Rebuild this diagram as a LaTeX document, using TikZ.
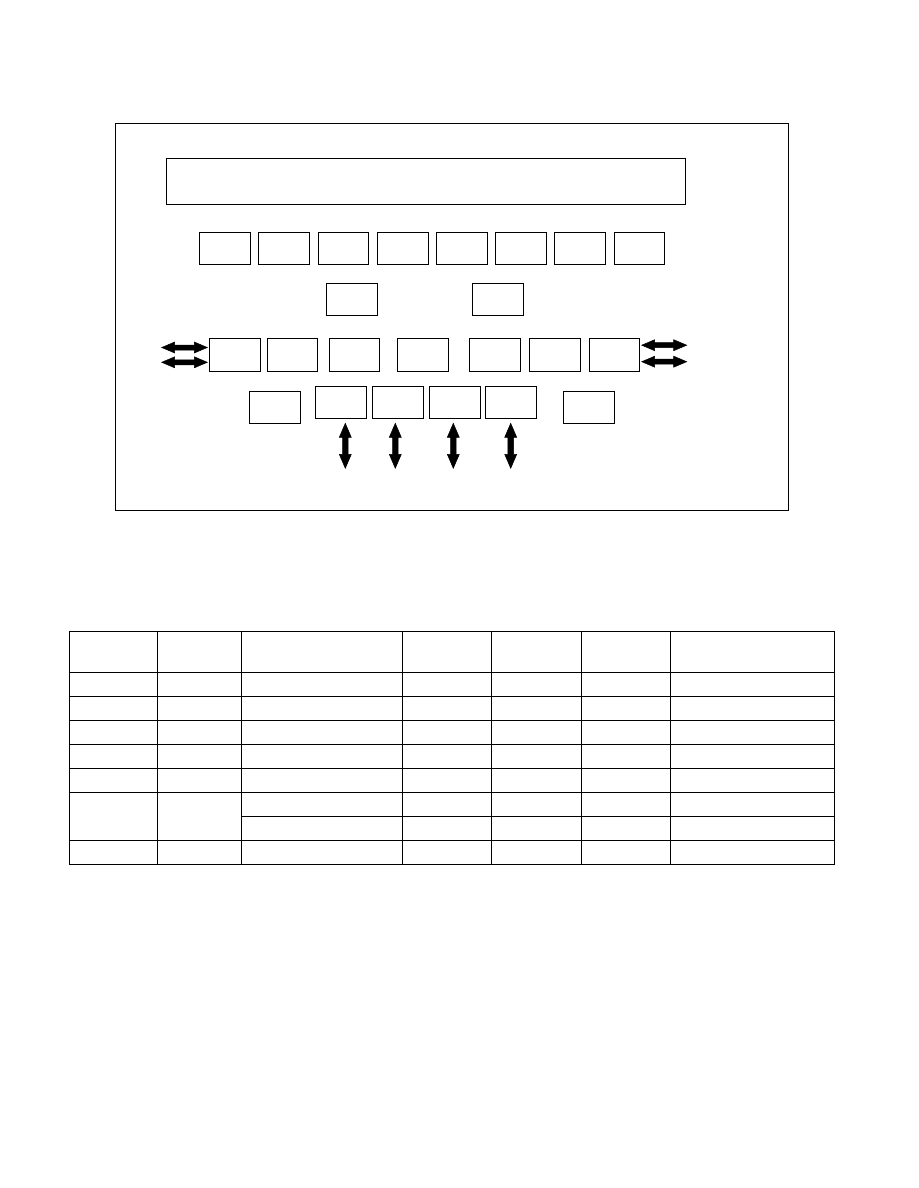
\documentclass[tikz,border=0pt]{standalone}
\usetikzlibrary{calc}
\tikzset{
  bx/.style={draw, line width=1pt, inner sep=0pt, minimum width=51pt, minimum height=32pt},
  arrowfill/.style={fill=black, draw=black, line width=0.5pt, line join=miter},
  tl/.style={line width=1pt}
}
% horizontal double arrow from #1 (left tip) to #2 (right tip)
\newcommand\myharrow[2]{%
  \path[arrowfill] (#1) -- ++(13,-5.5) -- ++(0,3) -- ($(#2)+(-13,-2.5)$) -- ++(0,-3) -- (#2)
    -- ++(-13,5.5) -- ++(0,-3) -- ($(#1)+(13,2.5)$) -- ++(0,3) -- cycle;}
% vertical double arrow from #1 (top tip) to #2 (bottom tip)
\newcommand\myvarrow[2]{%
  \path[arrowfill] (#1) -- ++(6,14) -- ++(-3.2,0) -- ($(#2)+(2.8,-14)$) -- ++(3.2,0) -- (#2)
    -- ++(-6,-14) -- ++(3.2,0) -- ($(#1)+(-2.8,14)$) -- ++(-3.2,0) -- cycle;}
\begin{document}
\begin{tikzpicture}[x=1pt,y=-1pt]
\useasboundingbox (0,0) rectangle (918,1188);
% outer frame
\node[draw, line width=1pt, inner sep=0pt, minimum width=672.7pt, minimum height=386.7pt] (frame) at (451.65,316.65) {};
% long top box
\node[bx, minimum width=518.7pt, minimum height=46pt] (lcd) at (425.7,181.3) {};
% top row
\node[bx] (t1) at (224.8,248.2) {};
\node[bx] (t2) at (283.8,248.2) {};
\node[bx, minimum width=50pt] (t3) at (343.3,248.2) {};
\node[bx] (t4) at (402.8,248.2) {};
\node[bx] (t5) at (461.8,248.2) {};
\node[bx] (t6) at (521,248.2) {};
\node[bx] (t7) at (579.8,248.2) {};
\node[bx, minimum width=50pt] (t8) at (639.3,248.2) {};
% middle row
\node[bx] (ma) at (351.8,299.3) {};
\node[bx] (mb) at (497.8,299.3) {};
% third row
\node[bx, minimum height=33pt] (r1) at (234.7,354.8) {};
\node[bx, minimum height=33pt, minimum width=50pt] (r2) at (292.3,354.8) {};
\node[bx, minimum height=33pt, minimum width=50pt] (r3) at (354.3,354.8) {};
\node[bx, minimum height=33pt] (r4) at (422.8,354.8) {};
\node[bx, minimum height=33pt] (r5) at (494.8,354.8) {};
\node[bx, minimum height=33pt] (r6) at (554.7,354.8) {};
\node[bx, minimum height=33pt, minimum width=50pt] (r7) at (614.3,354.8) {};
% fourth row
\node[bx] (s1) at (274.8,407.2) {};
\node[bx] (m1) at (340.8,402.3) {};
\node[bx] (m2) at (398,402.3) {};
\node[bx] (m3) at (454.8,402.3) {};
\node[bx] (m4) at (511.3,402.3) {};
\node[bx] (s2) at (588.8,407.2) {};
% horizontal arrows
\coordinate (la1) at (161.7,347.5);
\coordinate (la2) at (161.7,362.3);
\coordinate (lb1) at (207.3,347.5);
\coordinate (lb2) at (207.3,362.3);
\coordinate (ra1) at (641.7,345.2);
\coordinate (ra2) at (641.7,361.7);
\coordinate (rb1) at (686.7,345.2);
\coordinate (rb2) at (686.7,361.7);
\myharrow{la1}{lb1}
\myharrow{la2}{lb2}
\myharrow{ra1}{rb1}
\myharrow{ra2}{rb2}
% vertical arrows
\coordinate (va1) at (345.3,423.3); \coordinate (vb1) at (345.3,468.3);
\coordinate (va2) at (395.3,423.3); \coordinate (vb2) at (395.3,468.3);
\coordinate (va3) at (453.3,423.3); \coordinate (vb3) at (453.3,468.3);
\coordinate (va4) at (510.7,423.3); \coordinate (vb4) at (510.7,468.3);
\myvarrow{va1}{vb1}
\myvarrow{va2}{vb2}
\myvarrow{va3}{vb3}
\myvarrow{va4}{vb4}
% table
\draw[tl] (69.3,631.7) rectangle (834.3,864.3);
\foreach \x in {157.7,241.7,402.3,491.3,581.3,670.3}{
  \draw[tl] (\x,631.7) -- (\x,864.3);
}
\foreach \y in {672.3,696.3,720.3,744.3,768.3,792.3,840.3}{
  \draw[tl] (69.3,\y) -- (834.3,\y);
}
\draw[tl] (241.7,816.3) -- (834.3,816.3);
\end{tikzpicture}
\end{document}
